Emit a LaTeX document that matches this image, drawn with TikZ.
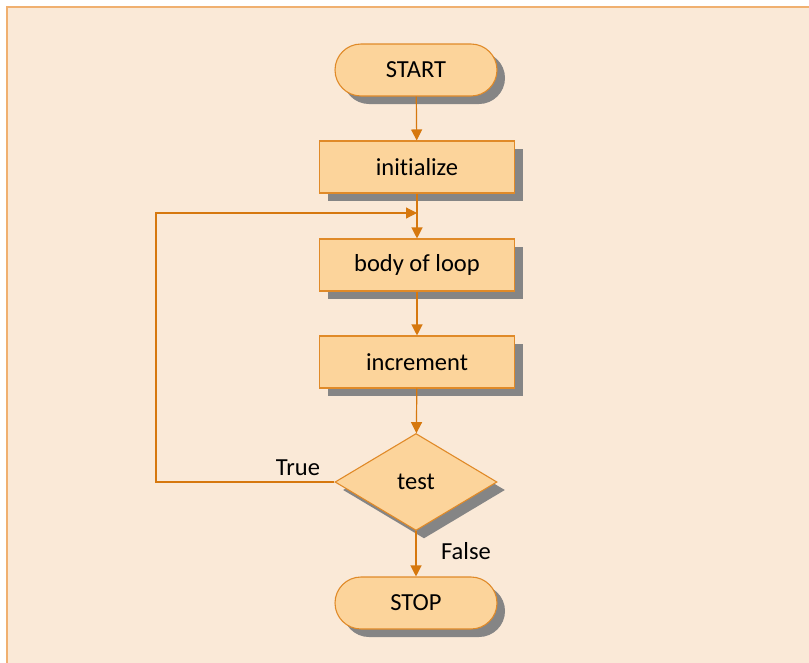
\documentclass[tikz,border=0pt]{standalone}
\usepackage{fontspec}
\setmainfont{Carlito}[Ligatures={NoCommon,NoRare,NoDiscretionary}]
\usetikzlibrary{shapes.geometric,shadows,arrows.meta}
\definecolor{bgfill}{HTML}{FAE9D7}
\definecolor{bgline}{HTML}{F0B070}
\definecolor{nodefill}{HTML}{FCD49B}
\definecolor{nodeline}{HTML}{E08A28}
\definecolor{arrowcol}{HTML}{D6780E}
\definecolor{shadowcol}{HTML}{858585}
\tikzset{
  base/.style={draw=nodeline, line width=1.1pt, fill=nodefill, inner sep=0pt,
    font=\fontsize{24.5}{29}\selectfont, text=black,
    drop shadow={shadow xshift=8pt, shadow yshift=-8pt, fill=shadowcol, opacity=1}},
  terminal/.style={base, rectangle, rounded corners=26pt, minimum width=162pt, minimum height=52pt},
  process/.style={base, rectangle, minimum width=195pt, minimum height=52pt},
  decision/.style={base, diamond, minimum width=162pt, minimum height=97pt},
  conn/.style={draw=arrowcol, line width=1.2pt, -{Triangle[length=11pt,width=11pt]}},
  lbl/.style={font=\fontsize{24.5}{29}\selectfont, text=black, inner sep=0pt}
}
\begin{document}
\begin{tikzpicture}[x=1pt,y=-1pt]
\useasboundingbox (0,0) rectangle (809,662);
\fill[bgfill] (6,6) rectangle (812,665);
\draw[bgline, line width=2pt] (7,665) -- (7,7) -- (812,7);
\node[terminal] (start) at (416,70) {START};
\node[process] (init) at (417,167) {initialize};
\node[process] (body) at (417,265) {body of loop};
\node[process] (incr) at (417,362) {increment};
\node[decision] (test) at (416,482) {test};
\node[terminal] (stop) at (416,603) {STOP};
\coordinate (corner) at (156,213);
\coordinate (join) at (417,213);
\draw[conn] (start) -- (init);
\draw[conn] (init) -- (body);
\draw[conn] (body) -- (incr);
\draw[conn] (incr) -- (test);
\draw[conn] (test) -- (stop);
\draw[conn] (test.west) -| (corner) -- (join);
\node[lbl] (true) at (298,468) {True};
\node[lbl] (false) at (466,551) {False};
\end{tikzpicture}
\end{document}
